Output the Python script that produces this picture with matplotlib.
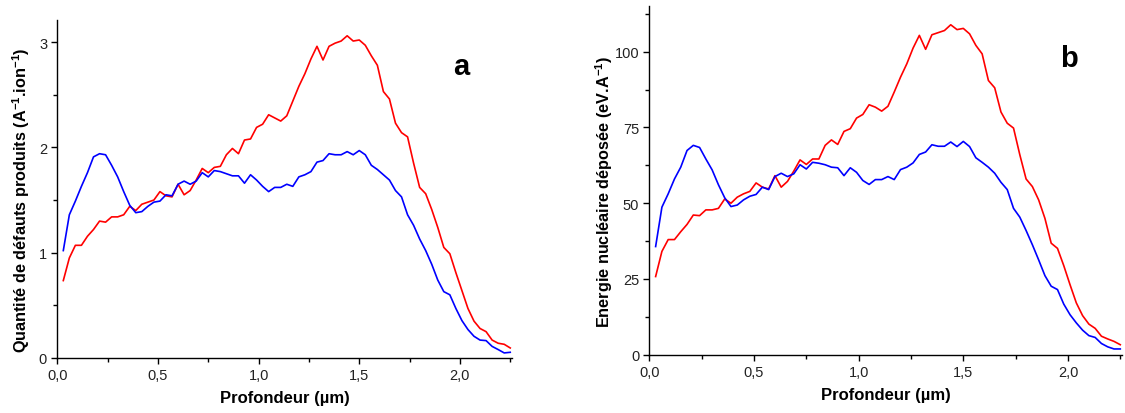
import numpy as np
import matplotlib
matplotlib.use('Agg')
import matplotlib.pyplot as plt
from matplotlib.ticker import MultipleLocator, FuncFormatter

plt.rcParams['font.family'] = ['Liberation Sans', 'DejaVu Sans']
plt.rcParams['mathtext.fontset'] = 'custom'
plt.rcParams['mathtext.rm'] = 'Liberation Sans'
plt.rcParams['mathtext.bf'] = 'Liberation Sans:bold'

# depth step of 0.03 um, 75 points
depth = [round(0.03 * k, 2) for k in range(1, 76)]

# panel a : defects produced (A^-1.ion^-1)
defauts_rouge = [0.735, 0.95, 1.07, 1.07, 1.156, 1.22, 1.30, 1.29, 1.34, 1.34,
                 1.36, 1.44, 1.40, 1.46, 1.48, 1.50, 1.58, 1.54, 1.53, 1.65,
                 1.55, 1.59, 1.69, 1.80, 1.76, 1.81, 1.82, 1.93, 1.99, 1.94,
                 2.07, 2.08, 2.19, 2.22, 2.31, 2.28, 2.25, 2.30, 2.44, 2.58,
                 2.70, 2.84, 2.96, 2.83, 2.96, 2.99, 3.01, 3.06, 3.01, 3.02,
                 2.97, 2.87, 2.78, 2.53, 2.46, 2.23, 2.14, 2.10, 1.85, 1.62,
                 1.56, 1.41, 1.24, 1.05, 0.99, 0.81, 0.64, 0.47, 0.35, 0.28,
                 0.25, 0.17, 0.14, 0.13, 0.095]
defauts_bleu = [1.02, 1.36, 1.49, 1.63, 1.76, 1.91, 1.94, 1.93, 1.83, 1.72,
                1.58, 1.45, 1.38, 1.39, 1.44, 1.48, 1.49, 1.55, 1.54, 1.65,
                1.68, 1.65, 1.68, 1.76, 1.72, 1.78, 1.77, 1.75, 1.73, 1.73,
                1.66, 1.74, 1.69, 1.63, 1.58, 1.62, 1.62, 1.65, 1.63, 1.72,
                1.74, 1.77, 1.86, 1.875, 1.94, 1.93, 1.93, 1.96, 1.93, 1.97,
                1.93, 1.83, 1.79, 1.74, 1.69, 1.59, 1.53, 1.36, 1.26, 1.13,
                1.02, 0.89, 0.74, 0.63, 0.60, 0.47, 0.355, 0.27, 0.206, 0.17,
                0.165, 0.11, 0.08, 0.048, 0.054]

# panel b : nuclear energy deposited (eV.A^-1)
energie_rouge = [25.8, 34.1, 38.0, 38.0, 40.6, 43.0, 46.1, 45.9, 47.8, 47.8,
                 48.3, 51.4, 50.0, 52.0, 53.1, 53.9, 56.7, 55.3, 54.7, 59.1,
                 55.3, 57.2, 60.6, 64.3, 62.8, 64.6, 64.6, 69.1, 70.9, 69.4,
                 73.7, 74.6, 78.1, 79.3, 82.5, 81.7, 80.4, 82.0, 86.7, 91.6,
                 96.0, 101.2, 105.4, 100.8, 105.6, 106.3, 107.0, 108.9, 107.3, 107.7,
                 105.9, 102.1, 99.3, 90.5, 88.1, 80.1, 76.4, 74.8, 66.0, 58.0,
                 55.5, 51.1, 45.0, 36.8, 35.1, 29.4, 23.1, 17.1, 12.9, 10.1,
                 8.7, 6.1, 5.2, 4.4, 3.3]
energie_bleu = [35.7, 48.7, 53.1, 58.0, 61.9, 67.4, 69.1, 68.4, 64.6, 61.0,
                56.1, 51.8, 48.9, 49.4, 51.1, 52.3, 52.9, 55.3, 54.5, 58.8,
                59.9, 58.8, 59.7, 62.7, 61.3, 63.5, 63.2, 62.7, 61.9, 61.7,
                59.1, 61.7, 60.2, 57.5, 56.2, 57.8, 57.8, 58.8, 57.8, 61.1,
                61.9, 63.3, 66.1, 66.9, 69.3, 68.8, 68.8, 70.2, 68.7, 70.4,
                68.7, 65.0, 63.5, 61.9, 59.9, 56.9, 54.5, 48.3, 45.4, 41.0,
                36.3, 31.3, 26.1, 22.6, 21.5, 16.7, 13.2, 10.5, 8.1, 6.3,
                5.7, 3.7, 2.6, 1.9, 1.9]

fig = plt.figure(figsize=(11.25, 4.14), dpi=100)
ax1 = fig.add_axes([0.0509, 0.1329, 0.4039, 0.8164])
ax2 = fig.add_axes([0.5772, 0.1408, 0.4199, 0.8416])

virgule = FuncFormatter(lambda v, p: f'{v:.1f}'.replace('.', ','))

for ax, rouge, bleu, ymax, ymaj, ymin in [
        (ax1, defauts_rouge, defauts_bleu, 3.21, 1, 0.5),
        (ax2, energie_rouge, energie_bleu, 115, 25, 12.5)]:
    ax.plot(depth, rouge, color='#ff0000', lw=1.2)
    ax.plot(depth, bleu, color='#0000ff', lw=1.2)
    ax.set_xlim(0, 2.257)
    ax.set_ylim(0, ymax)
    ax.spines['top'].set_visible(False)
    ax.spines['right'].set_visible(False)
    for s in ['left', 'bottom']:
        ax.spines[s].set_linewidth(1.0)
    ax.xaxis.set_major_locator(MultipleLocator(0.5))
    ax.xaxis.set_minor_locator(MultipleLocator(0.25))
    ax.yaxis.set_major_locator(MultipleLocator(ymaj))
    ax.yaxis.set_minor_locator(MultipleLocator(ymin))
    ax.xaxis.set_major_formatter(virgule)
    ax.yaxis.set_major_formatter(FuncFormatter(lambda v, p: f'{v:.0f}'))
    ax.tick_params(which='major', direction='out', length=4.3, width=1.0,
                   labelsize=10.5, labelcolor='#222222', pad=3)
    ax.tick_params(which='minor', direction='out', length=3, width=1.0)
    ax.set_xlabel('Profondeur (µm)', fontsize=12, fontweight='bold', labelpad=6)

fig.text(21 / 1125, 1 - 200 / 414,
         r'Quantité de défauts produits (A$^{\mathbf{-1}}$.ion$^{\mathbf{-1}}$)',
         rotation=90, ha='center', va='center', fontsize=11.7, fontweight='bold')
fig.text(604 / 1125, 1 - 192 / 414,
         r'Energie nucléaire déposée (eV.A$^{\mathbf{-1}}$)',
         rotation=90, ha='center', va='center', fontsize=11.7, fontweight='bold')

fig.text(461.7 / 1125, 1 - 66.7 / 414, 'a', ha='center', va='center',
         fontsize=21, fontweight='bold')
fig.text(1069 / 1125, 1 - 59.3 / 414, 'b', ha='center', va='center',
         fontsize=21, fontweight='bold')

fig.savefig('out.png', dpi=100)
